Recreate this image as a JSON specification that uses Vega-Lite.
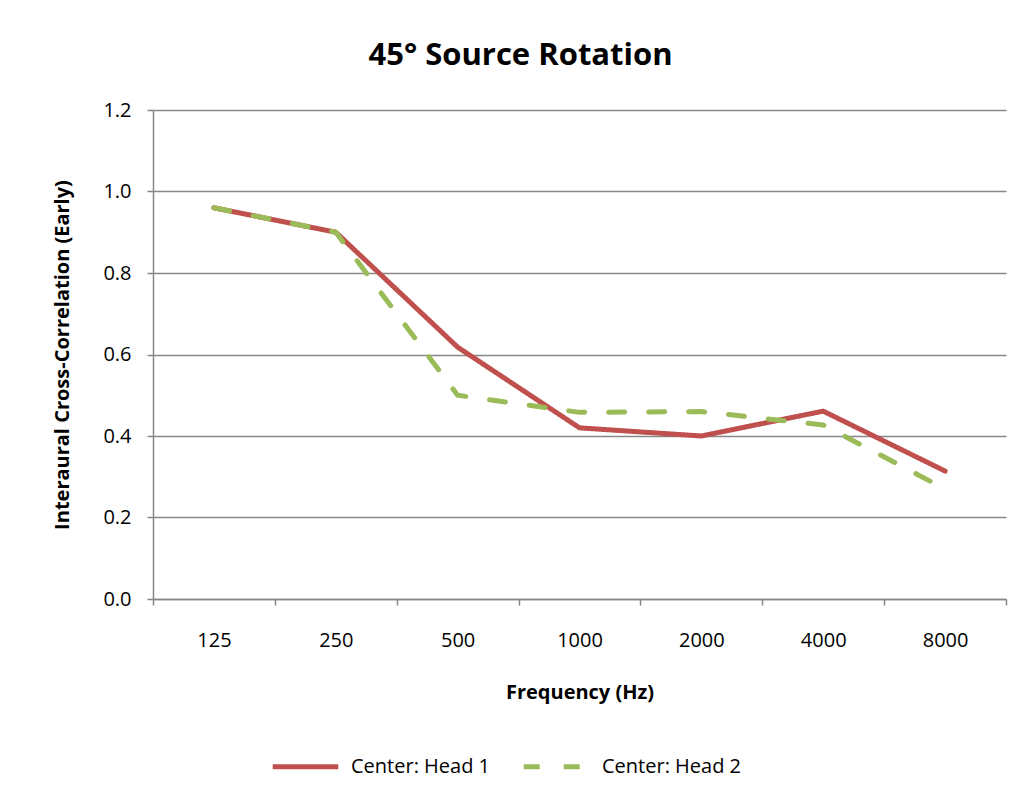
{
  "$schema": "https://vega.github.io/schema/vega-lite/v6.json",
  "width": 853,
  "height": 489,
  "autosize": {"type": "none"},
  "padding": {"left": 153, "top": 110, "right": 15, "bottom": 200},
  "background": "white",
  "title": {"text": "45° Source Rotation", "font": "Open Sans", "fontSize": 31, "fontWeight": "bold", "color": "#000000", "anchor": "middle", "dx": -59, "offset": 28},
  "data": {"values": [
    {"freq": "125", "series": "Center: Head 1", "value": 0.96},
    {"freq": "250", "series": "Center: Head 1", "value": 0.90},
    {"freq": "500", "series": "Center: Head 1", "value": 0.618},
    {"freq": "1000", "series": "Center: Head 1", "value": 0.42},
    {"freq": "2000", "series": "Center: Head 1", "value": 0.40},
    {"freq": "4000", "series": "Center: Head 1", "value": 0.461},
    {"freq": "8000", "series": "Center: Head 1", "value": 0.314},
    {"freq": "125", "series": "Center: Head 2", "value": 0.96},
    {"freq": "250", "series": "Center: Head 2", "value": 0.90},
    {"freq": "500", "series": "Center: Head 2", "value": 0.50},
    {"freq": "1000", "series": "Center: Head 2", "value": 0.458},
    {"freq": "2000", "series": "Center: Head 2", "value": 0.46},
    {"freq": "4000", "series": "Center: Head 2", "value": 0.427},
    {"freq": "8000", "series": "Center: Head 2", "value": 0.27}
  ]},
  "mark": {"type": "line", "strokeWidth": 5, "strokeCap": "round", "strokeJoin": "round"},
  "encoding": {
    "x": {"field": "freq", "type": "ordinal", "sort": null,
      "scale": {"paddingInner": 0, "paddingOuter": 0},
      "axis": {"title": "Frequency (Hz)", "labelAngle": 0, "tickBand": "extent", "grid": false,
        "domainColor": "#868686", "tickColor": "#868686", "tickSize": 6, "domainWidth": 1.5, "tickWidth": 1.5,
        "labelFont": "Open Sans", "labelFontSize": 20, "labelColor": "#000000", "labelPadding": 25,
        "titleFont": "Open Sans", "titleFontSize": 20, "titleFontWeight": "bold", "titleColor": "#000000", "titlePadding": 32}},
    "y": {"field": "value", "type": "quantitative",
      "scale": {"domain": [0, 1.2], "nice": false, "zero": true},
      "axis": {"title": "Interaural Cross-Correlation (Early)", "values": [0, 0.2, 0.4, 0.6, 0.8, 1.0, 1.2], "format": ".1f",
        "grid": true, "gridColor": "#878787", "gridWidth": 1.5,
        "domainColor": "#868686", "tickColor": "#868686", "tickSize": 6, "domainWidth": 1.5, "tickWidth": 1.5,
        "labelFont": "Open Sans", "labelFontSize": 20, "labelColor": "#000000", "labelPadding": 16,
        "titleFont": "Open Sans", "titleFontSize": 20, "titleFontWeight": "bold", "titleColor": "#000000", "titlePadding": 30}},
    "color": {"field": "series", "type": "nominal",
      "scale": {"domain": ["Center: Head 1", "Center: Head 2"], "range": ["#C0504D", "#9BBB59"]},
      "legend": {"title": null, "orient": "none", "legendX": 117, "legendY": 621, "direction": "horizontal",
        "symbolType": "stroke", "symbolSize": 4300, "symbolStrokeWidth": 5, "labelFont": "Open Sans", "labelFontSize": 20,
        "labelColor": "#000000", "labelOffset": 10, "columnPadding": 22}},
    "strokeDash": {"field": "series", "type": "nominal",
      "scale": {"domain": ["Center: Head 1", "Center: Head 2"], "range": [[1, 0], [16, 24]]},
      "legend": null}
  },
  "config": {"view": {"stroke": null}}
}
